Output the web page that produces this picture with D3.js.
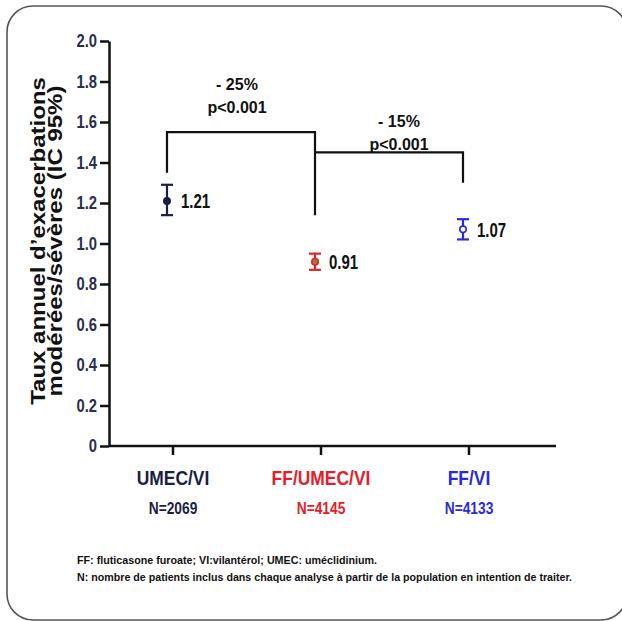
<!DOCTYPE html>
<html>
<head>
<meta charset="utf-8">
<script src="https://cdn.jsdelivr.net/npm/d3@7"></script>
<style>
  body { margin: 0; background: #fff; }
  svg text { font-family: "Liberation Sans", Arial, sans-serif; font-weight: bold; }
</style>
</head>
<body>
<div class="canvas"></div>
<script>
const dims = { width: 622, height: 621 }

// data
const categories = ['UMEC/VI', 'FF/UMEC/VI', 'FF/VI']
const patients = ['N=2069', 'N=4145', 'N=4133']
const rates = [1.21, 0.91, 1.07]
const ciLow = [1.14, 0.87, 1.02]
const ciHigh = [1.29, 0.95, 1.12]
const colors = ['#1b1d45', '#e3202a', '#2a2ad8']
const yTicks = [0, 0.2, 0.4, 0.6, 0.8, 1.0, 1.2, 1.4, 1.6, 1.8, 2.0]
const yTitle = ['Taux annuel d\u2019exacerbations', 'modérées/sévères (IC 95%)']

// comparisons (brackets)
const comparisons = [
  { from: 'UMEC/VI', to: 'FF/UMEC/VI', top: 1.55, fromEnd: 1.35, toEnd: 1.14, diff: '- 25%', p: 'p<0.001', labelAt: 1.645 },
  { from: 'FF/UMEC/VI', to: 'FF/VI', top: 1.45, fromEnd: 1.45, toEnd: 1.30, diff: '- 15%', p: 'p<0.001', labelAt: 1.46 }
]

const footnotes = [
  'FF: fluticasone furoate; VI:vilantérol; UMEC: uméclidinium.',
  'N: nombre de patients inclus dans chaque analyse à partir de la population en intention de traiter.'
]

const data = categories.map((c, i) => ({
  cat: c, n: patients[i], rate: rates[i], lo: ciLow[i], hi: ciHigh[i], color: colors[i]
}))

// narrow / stretch text to the look of the original
const squeeze = (sel, k) => {
  sel.each(function () {
    const w = this.getComputedTextLength()
    d3.select(this).attr('textLength', w * k).attr('lengthAdjust', 'spacingAndGlyphs')
  })
}

const svg = d3.select('.canvas')
              .append('svg')
              .attr('width', dims.width)
              .attr('height', dims.height)

// frame
svg.append('rect')
   .attr('x', 7).attr('y', 6)
   .attr('width', 620).attr('height', 614)
   .attr('rx', 26)
   .attr('fill', 'none')
   .attr('stroke', '#555')
   .attr('stroke-width', 1.6)

// scales
const y = d3.scaleLinear().domain([0, 2]).range([446, 41])
const x = d3.scalePoint().domain(categories).range([167, 463])
const tickShift = 6

// y axis
const yAxis = svg.append('g')
                 .attr('transform', 'translate(109, 0)')
                 .call(d3.axisLeft(y)
                         .tickValues(yTicks)
                         .tickFormat(d => d === 0 ? '0' : d.toFixed(1))
                         .tickSize(9)
                         .tickSizeOuter(0))
yAxis.select('.domain').attr('stroke', '#111').attr('stroke-width', 2.5)
yAxis.selectAll('.tick line').attr('stroke', '#111').attr('stroke-width', 2.5)
yAxis.selectAll('.tick text')
     .attr('x', -12)
     .attr('fill', '#2a2d4d')
     .style('font-size', '18px')
     .call(squeeze, 0.82)

// x axis
const xAxis = svg.append('g').attr('transform', `translate(${tickShift}, 446)`)
xAxis.append('line')
     .attr('x1', 109 - tickShift).attr('x2', 556 - tickShift)
     .attr('stroke', '#111').attr('stroke-width', 2.5)
xAxis.selectAll('.xtick')
     .data(data)
     .enter().append('line')
     .attr('x1', d => x(d.cat)).attr('x2', d => x(d.cat))
     .attr('y1', 0).attr('y2', 9)
     .attr('stroke', '#111').attr('stroke-width', 2.5)
xAxis.selectAll('.xlabel')
     .data(data)
     .enter().append('text')
     .attr('x', d => x(d.cat))
     .attr('y', 39)
     .attr('text-anchor', 'middle')
     .attr('fill', d => d.color)
     .style('font-size', '21px')
     .text(d => d.cat)
     .call(squeeze, 0.83)
xAxis.selectAll('.nlabel')
     .data(data)
     .enter().append('text')
     .attr('x', d => x(d.cat))
     .attr('y', 68)
     .attr('text-anchor', 'middle')
     .attr('fill', d => d.color)
     .style('font-size', '16px')
     .text(d => d.n)
     .call(squeeze, 0.86)

// y title, two rotated lines
svg.selectAll('.ytitle')
   .data(yTitle)
   .enter().append('text')
   .attr('transform', (d, i) => `translate(${45 + i * 17}, 241) rotate(-90)`)
   .attr('text-anchor', 'middle')
   .attr('fill', '#111')
   .style('font-size', '20px')
   .text(d => d)
   .call(squeeze, 1.2)

// brackets
const labelShift = [-4, 10]
const brackets = svg.append('g')
comparisons.forEach((c, i) => {
  const x1 = x(c.from), x2 = x(c.to)
  brackets.append('path')
          .attr('d', `M${x1},${y(c.fromEnd)}V${y(c.top)}H${x2}V${y(c.toEnd)}`)
          .attr('fill', 'none')
          .attr('stroke', '#111')
          .attr('stroke-width', 2.2)
  const mx = (x1 + x2) / 2 + labelShift[i]
  brackets.append('text')
          .attr('x', mx).attr('y', y(c.labelAt) - 23)
          .attr('text-anchor', 'middle')
          .attr('fill', '#111')
          .style('font-size', '16px')
          .text(c.diff)
  brackets.append('text')
          .attr('x', mx).attr('y', y(c.labelAt))
          .attr('text-anchor', 'middle')
          .attr('fill', '#111')
          .style('font-size', '16px')
          .text(c.p)
})

// error bars and points
const pts = svg.selectAll('.pt')
               .data(data)
               .enter().append('g')
               .attr('class', 'pt')
               .attr('transform', d => `translate(${x(d.cat)}, 0)`)

pts.append('line')
   .attr('y1', d => y(d.lo)).attr('y2', d => y(d.hi))
   .attr('stroke', d => d.color).attr('stroke-width', 2.2)
pts.append('line')
   .attr('x1', -6).attr('x2', 6)
   .attr('y1', d => y(d.hi)).attr('y2', d => y(d.hi))
   .attr('stroke', d => d.color).attr('stroke-width', 2.2)
pts.append('line')
   .attr('x1', -6).attr('x2', 6)
   .attr('y1', d => y(d.lo)).attr('y2', d => y(d.lo))
   .attr('stroke', d => d.color).attr('stroke-width', 2.2)
pts.append('circle')
   .attr('cy', d => y(d.rate))
   .attr('r', 3.2)
   .attr('fill', (d, i) => i === 0 ? d.color : i === 1 ? '#a08030' : '#fff')
   .attr('stroke', d => d.color)
   .attr('stroke-width', 1.6)
pts.append('text')
   .attr('x', 14)
   .attr('y', d => y(d.rate))
   .attr('dy', '0.37em')
   .attr('fill', '#111')
   .style('font-size', '20px')
   .text(d => d.rate.toFixed(2))
   .call(squeeze, 0.75)

// footnotes
const footWidth = [300, 495]
svg.selectAll('.foot')
   .data(footnotes)
   .enter().append('text')
   .attr('x', 77)
   .attr('y', (d, i) => 564 + i * 17)
   .attr('fill', '#111')
   .style('font-size', '11.5px')
   .attr('textLength', (d, i) => footWidth[i])
   .attr('lengthAdjust', 'spacingAndGlyphs')
   .text(d => d)
</script>
</body>
</html>
